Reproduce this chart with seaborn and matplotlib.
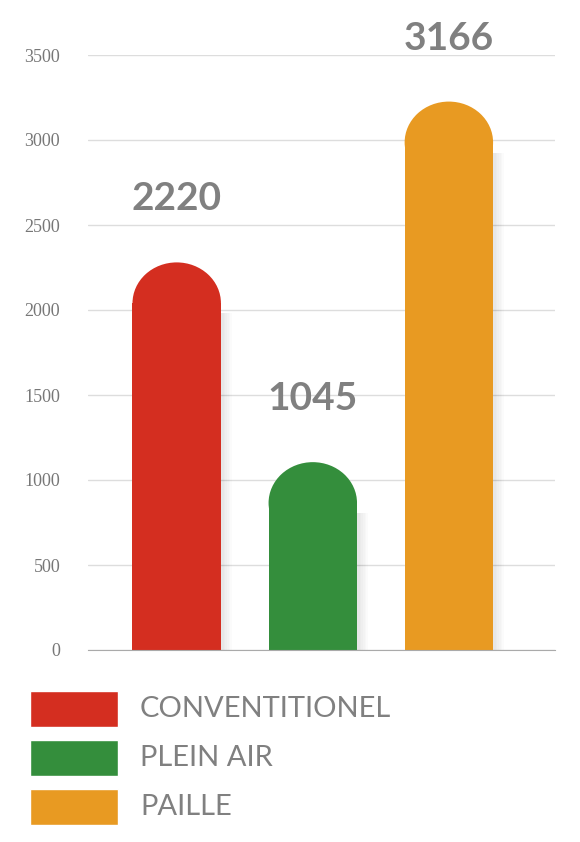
import matplotlib
matplotlib.use("Agg")
import matplotlib.pyplot as plt
import seaborn as sns
import pandas as pd
from matplotlib.patches import Rectangle, Ellipse

categories = ["CONVENTITIONEL", "PLEIN AIR", "PAILLE"]
values = [2220, 1045, 3166]
colors = ["#D42E20", "#348E3C", "#E89A22"]
yticks = [0, 500, 1000, 1500, 2000, 2500, 3000, 3500]

sns.set_style("white")
plt.rcParams['font.family'] = ['Lato', 'DejaVu Sans']

fig = plt.figure(figsize=(5.8, 8.42), dpi=100)
ax = fig.add_axes([88/580, 1-650/842, (555-88)/580, (650-55)/842])
df = pd.DataFrame({"cat": categories, "val": values})
sns.barplot(data=df, x="cat", y="val", hue="cat", palette=colors, width=0.65,
            legend=False, ax=ax, saturation=1)

ax.set_xlim(-0.652, 2.78)
ax.set_ylim(0, 3500)
ax.set_yticks(yticks)
ax.set_yticklabels([str(t) for t in yticks], family="Liberation Serif", fontsize=13, color="#777777")
ax.tick_params(axis="y", length=0, pad=20)
ax.set_xticks([])
ax.set_xlabel(""); ax.set_ylabel("")
ax.grid(axis="y", color="#dddddd", linewidth=1)
ax.set_axisbelow(True)
for s in ["top", "right", "left"]:
    ax.spines[s].set_visible(False)
ax.spines["bottom"].set_color("#aaaaaa")

# rounded tops
for p in list(ax.patches):
    x, w, h = p.get_x(), p.get_width(), p.get_height()
    col = p.get_facecolor()
    p.set_visible(False)
    top = h + 60
    ry = 240
    for k in range(6):
        ax.add_patch(Rectangle((x + 0.02 + k * 0.012, 0), w, top - ry - 60,
                               facecolor="#000000", alpha=0.015, zorder=1, linewidth=0))
    ax.add_patch(Rectangle((x, 0), w, top - ry, facecolor=col, linewidth=0, zorder=2))
    ax.add_patch(Ellipse((x + w / 2, top - ry), w, 2 * ry, facecolor=col, linewidth=0, zorder=2))

for i, v in enumerate(values):
    ax.text(i, v + 330, str(v), ha="center", va="bottom", fontsize=28, fontweight="bold",
            color="#808080", clip_on=False)

# legend
for j, (c, col) in enumerate(zip(categories, colors)):
    yc = 1 - (709 + j * 49) / 842
    fig.patches.append(Rectangle((30/580, yc - 18/842), 88/580, 36/842, facecolor=col,
                                 transform=fig.transFigure, figure=fig))
    fig.text(140/580, yc, c, va="center", ha="left", fontsize=21, color="#808080")

fig.savefig("out.png", dpi=100)
